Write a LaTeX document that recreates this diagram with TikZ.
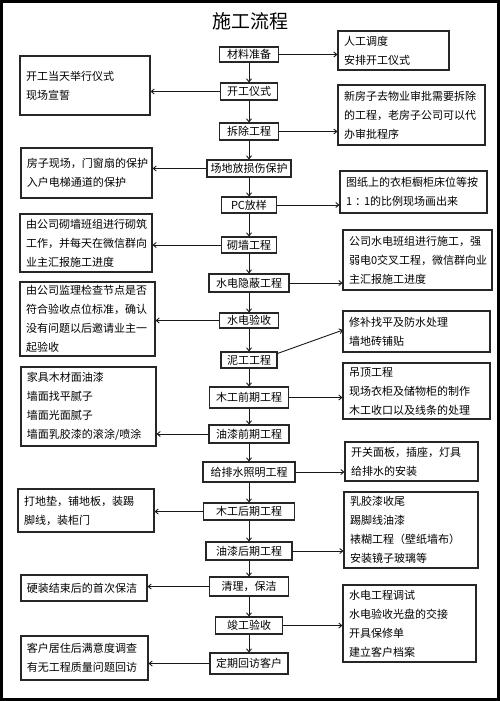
\documentclass[tikz,border=0pt]{standalone}
\usepackage{fontspec}
\setmainfont{Noto Sans CJK SC}
\usetikzlibrary{arrows.meta}
\tikzset{
  sbox/.style={draw=black!85,line width=1.1pt,inner xsep=6pt,inner ysep=0pt,align=left,
    font=\fontsize{11}{19}\selectfont},
  mbox/.style={draw=black!85,line width=1.1pt,inner sep=0pt,align=center,
    font=\fontsize{11}{19}\selectfont},
  arr/.style={draw=black!90,line width=0.9pt,-{Straight Barb[length=3pt,width=5pt]}}
}
\newcommand\sidebox[6]{%
  \pgfmathsetmacro\bw{#4-#2}\pgfmathsetmacro\bh{#5-#3}%
  \pgfmathsetmacro\bx{(#2+#4)/2}\pgfmathsetmacro\by{(#3+#5)/2}%
  \pgfmathsetmacro\tw{#4-#2-12}%
  \node[sbox,minimum width=\bw pt,minimum height=\bh pt,text width=\tw pt] (#1) at (\bx,\by) {#6};}
\newcommand\midbox[5]{% name, cy, w, h, text
  \node[mbox,minimum width=#3pt,minimum height=#4pt] (#1) at (249,#2) {#5};}
\begin{document}
\begin{tikzpicture}[x=1pt,y=-1pt]
\useasboundingbox (0,0) rectangle (500,701);
\fill[white] (0,0) rectangle (500,701);
\draw[line width=3.4pt] (1.7,1.7) rectangle (498.3,699.3);
\node[font=\fontsize{19}{22}\selectfont] (title) at (250,21) {施工流程};

% center column
\midbox{c1}{54.5}{59}{15}{材料准备}
\midbox{c2}{91.5}{57}{17}{开工仪式}
\midbox{c3}{131.5}{59}{17}{拆除工程}
\midbox{c4}{168.5}{84}{17}{场地放损伤保护}
\midbox{c5}{205}{55}{16}{PC放样}
\midbox{c6}{245}{55}{16}{砌墙工程}
\midbox{c7}{283}{80}{18}{水电隐蔽工程}
\midbox{c8}{320.5}{59}{15}{水电验收}
\midbox{c9}{360}{56}{16}{泥工工程}
\midbox{c10}{397.5}{79}{21}{木工前期工程}
\midbox{c11}{434}{80}{18}{油漆前期工程}
\midbox{c12}{472}{92}{20}{给排水照明工程}
\midbox{c13}{511.5}{91}{17}{木工后期工程}
\midbox{c14}{551}{86}{18}{油漆后期工程}
\midbox{c15}{586.5}{79}{19}{清理，保洁}
\midbox{c16}{625.5}{67}{17}{竣工验收}
\midbox{c17}{663.5}{78}{21}{定期回访客户}

% left boxes
\sidebox{L1}{20}{56}{150}{115}{开工当天举行仪式\\现场宣誓}
\sidebox{L2}{21}{148}{152}{198}{房子现场，门窗扇的保护\\入户电梯通道的保护}
\sidebox{L3}{20}{214}{152}{272}{由公司砌墙班组进行砌筑\\工作，并每天在微信群向\\业主汇报施工进度}
\sidebox{L4}{20}{282}{155}{356}{由公司监理检查节点是否\\符合验收点位标准，确认\\没有问题以后邀请业主一\\起验收}
\sidebox{L5}{21}{367}{156}{446}{家具木材面油漆\\墙面找平腻子\\墙面光面腻子\\墙面乳胶漆的滚涂/喷涂}
\sidebox{L6}{18}{489}{154}{532}{打地垫，铺地板，装踢\\脚线，装柜门}
\sidebox{L7}{21}{575}{147}{601}{硬装结束后的首次保洁}
\sidebox{L8}{21}{636}{148}{680}{客户居住后满意度调查\\有无工程质量问题回访}

% right boxes
\sidebox{R1}{338}{31}{449}{70}{人工调度\\安排开工仪式}
\sidebox{R2}{338}{85}{485}{145}{新房子去物业审批需要拆除\\的工程，老房子公司可以代\\办审批程序}
\sidebox{R3}{340}{171}{487}{213}{图纸上的衣柜橱柜床位等按\\1\kern3pt：\kern-2pt1的比例现场画出来}
\sidebox{R4}{343}{230}{492}{290}{公司水电班组进行施工，强\\弱电0交叉工程，微信群向业\\主汇报施工进度}
\sidebox{R5}{343}{311}{490}{352}{修补找平及防水处理\\墙地砖铺贴}
\sidebox{R6}{343}{363}{490}{419}{吊顶工程\\现场衣柜及储物柜的制作\\木工收口以及线条的处理}
\sidebox{R7}{345}{442}{478}{481}{开关面板，插座，灯具\\给排水的安装}
\sidebox{R8}{344}{492}{478}{568}{乳胶漆收尾\\踢脚线油漆\\裱糊工程（壁纸墙布）\\安装镜子玻璃等}
\sidebox{R9}{343}{585}{476}{662}{水电工程调试\\水电验收光盘的交接\\开具保修单\\建立客户档案}

% vertical flow
\foreach \a/\b in {c1/c2,c2/c3,c3/c4,c4/c5,c5/c6,c6/c7,c7/c8,c8/c9,c9/c10,c10/c11,c11/c12,c12/c13,c13/c14,c14/c15,c15/c16,c16/c17}
  \draw[arr] (\a) -- (\b);

% left arrows
\foreach \a/\b in {c2/L1,c4/L2,c6/L3,c8/L4,c11/L5,c13/L6,c15/L7,c17/L8}
  \draw[arr] (\a.west) -- (\a.west -| \b.east);

% right arrows
\foreach \a/\b in {c1/R1,c3/R2,c5/R3,c7/R4,c10/R6,c12/R7,c14/R8,c16/R9}
  \draw[arr] (\a.east) -- (\a.east -| \b.west);
\coordinate (r5in) at (343,330);
\draw[arr] (c9.north east) ++(0,2) -- (r5in);
\end{tikzpicture}
\end{document}
